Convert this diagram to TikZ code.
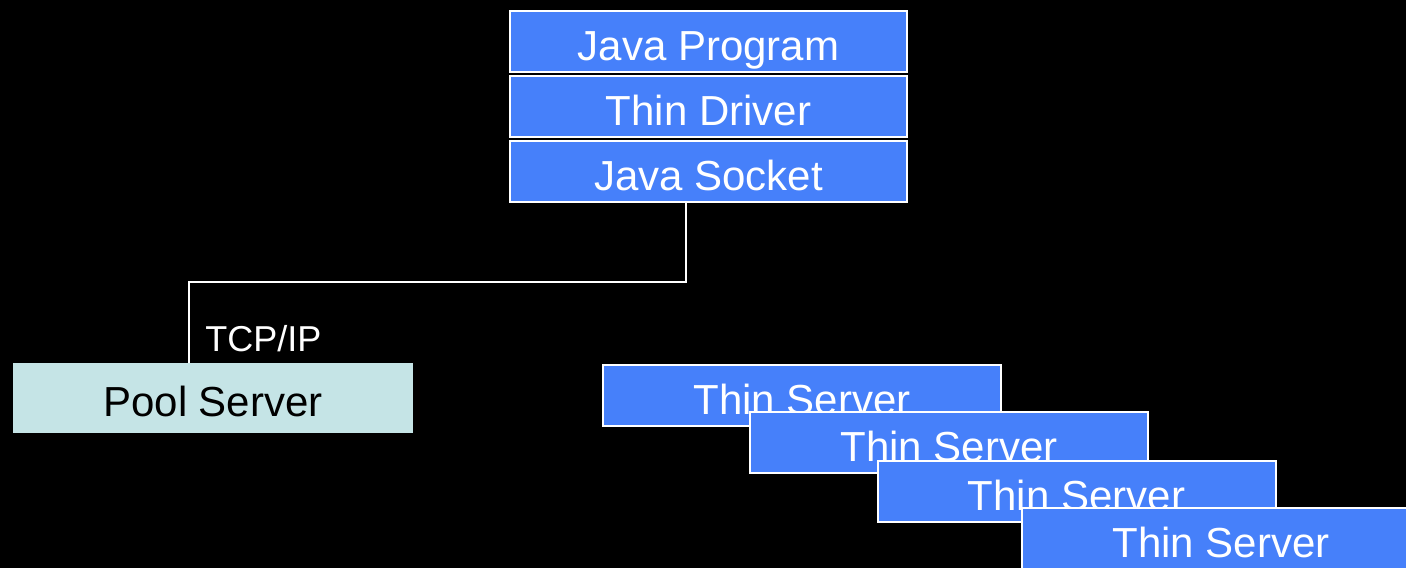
\documentclass[tikz,border=0pt]{standalone}
\usepackage{fontspec}
\setmainfont{Liberation Sans}
\usepackage{xcolor}
\usetikzlibrary{positioning}
\definecolor{boxblue}{HTML}{4680FA}
\definecolor{poolcyan}{HTML}{C5E4E6}

\begin{document}
\begin{tikzpicture}[x=0.5pt, y=-0.5pt,
    layer/.style={draw=white, line width=1pt, fill=boxblue, text=white, minimum width=198.5pt, minimum height=30.5pt, inner sep=0pt, text height=19pt, text depth=0pt, font=\fontsize{21}{25}\selectfont},
    pool/.style={fill=poolcyan, text=black, minimum width=200pt, minimum height=35pt, inner sep=0pt, text height=18pt, text depth=0pt, font=\fontsize{21}{25}\selectfont},
    wire/.style={white, line width=1pt}]
    \fill[black] (0,0) rectangle (1406,568);
    \useasboundingbox (0,0) rectangle (1406,568);
    %
    \node[layer] (prog) at (708.5,41.5) {Java Program};
    \node[layer, below=1pt of prog] (driver) {Thin Driver};
    \node[layer, below=1pt of driver] (socket) {Java Socket};
    %
    \node[pool] (pool) at (213,398) {Pool Server};
    %
    \coordinate (bend) at (686,282);
    \coordinate (drop) at (189,282);
    \draw[wire] (socket.south -| bend) -- (bend) -- (drop) -- (drop |- pool.north);
    \node[white, anchor=base west, inner sep=0pt, font=\fontsize{18}{22}\selectfont] (tcp) at (205,351) {TCP/IP};
    %
    \foreach \n/\x/\y in {1/802/395, 2/949/442.5, 3/1076.5/491, 4/1221/538.5}
        \node[layer, minimum width=199pt] (thin\n) at (\x,\y) {Thin Server};
\end{tikzpicture}
\end{document}
